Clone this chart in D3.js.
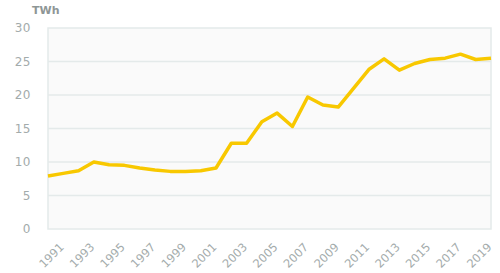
<!DOCTYPE html>
<html>
<head>
<meta charset="utf-8">
<script src="https://cdn.jsdelivr.net/npm/d3@7"></script>
<style>
  body { margin: 0; background: #fff; }
  text { font-family: "DejaVu Sans", Verdana, sans-serif; }
</style>
</head>
<body>
<svg id="chart" width="500" height="273"></svg>
<script>
// data
var years = [1990, 1991, 1992, 1993, 1994, 1995, 1996, 1997, 1998, 1999,
             2000, 2001, 2002, 2003, 2004, 2005, 2006, 2007, 2008, 2009,
             2010, 2011, 2012, 2013, 2014, 2015, 2016, 2017, 2018, 2019];
var twh = [7.9, 8.3, 8.7, 10.0, 9.6, 9.5, 9.1, 8.8, 8.6, 8.6,
           8.7, 9.1, 12.8, 12.8, 16.0, 17.3, 15.3, 19.7, 18.5, 18.2,
           21.0, 23.8, 25.4, 23.7, 24.7, 25.3, 25.5, 26.1, 25.3, 25.5];
var yTicks = [0, 5, 10, 15, 20, 25, 30];
var xTicks = [1991, 1993, 1995, 1997, 1999, 2001, 2003, 2005, 2007, 2009,
              2011, 2013, 2015, 2017, 2019];

var svg = d3.select("#chart");
var plotLeft = 48, plotRight = 491, plotTop = 28, plotBottom = 229;

var x = d3.scaleLinear().domain([1990, 2019]).range([plotLeft, plotRight]);
var y = d3.scaleLinear().domain([0, 30]).range([plotBottom, plotTop]);

// plot background
svg.append("rect")
  .attr("x", plotLeft).attr("y", plotTop)
  .attr("width", plotRight - plotLeft).attr("height", plotBottom - plotTop)
  .attr("fill", "#fafafa")
  .attr("stroke", "#e4eaea")
  .attr("stroke-width", 1.5);

// gridlines
svg.append("g").selectAll("line")
  .data(yTicks.slice(1, -1))
  .enter().append("line")
  .attr("x1", plotLeft).attr("x2", plotRight)
  .attr("y1", function(d) { return y(d); })
  .attr("y2", function(d) { return y(d); })
  .attr("stroke", "#e4eaea")
  .attr("stroke-width", 1.5);

// y axis labels
var yAxis = d3.axisLeft(y).tickValues(yTicks).tickSize(0).tickPadding(17);
var gy = svg.append("g").attr("transform", "translate(" + plotLeft + ",0)").call(yAxis);
gy.select(".domain").remove();
gy.selectAll("text")
  .attr("fill", "#a3abab")
  .style("font-size", "12px")
  .style("letter-spacing", "0.5px");

// x axis labels
var xAxis = d3.axisBottom(x).tickValues(xTicks).tickFormat(d3.format("d")).tickSize(0);
var gx = svg.append("g").attr("transform", "translate(0," + plotBottom + ")").call(xAxis);
gx.select(".domain").remove();
gx.selectAll("text")
  .attr("fill", "#a3abab")
  .style("font-size", "11.5px")
  .attr("text-anchor", "end")
  .attr("y", 0)
  .attr("dy", "0.35em")
  .attr("transform", "translate(-2,16) rotate(-45)");

// unit label
svg.append("text")
  .attr("x", 32).attr("y", 14)
  .attr("fill", "#8e9696")
  .style("font-size", "11px")
  .style("font-weight", "bold")
  .text("TWh");

// line
var line = d3.line()
  .x(function(d, i) { return x(years[i]); })
  .y(function(d) { return y(d); });

svg.append("path")
  .datum(twh)
  .attr("d", line)
  .attr("fill", "none")
  .attr("stroke", "#f8c800")
  .attr("stroke-width", 3.5)
  .attr("stroke-linejoin", "round");
</script>
</body>
</html>
